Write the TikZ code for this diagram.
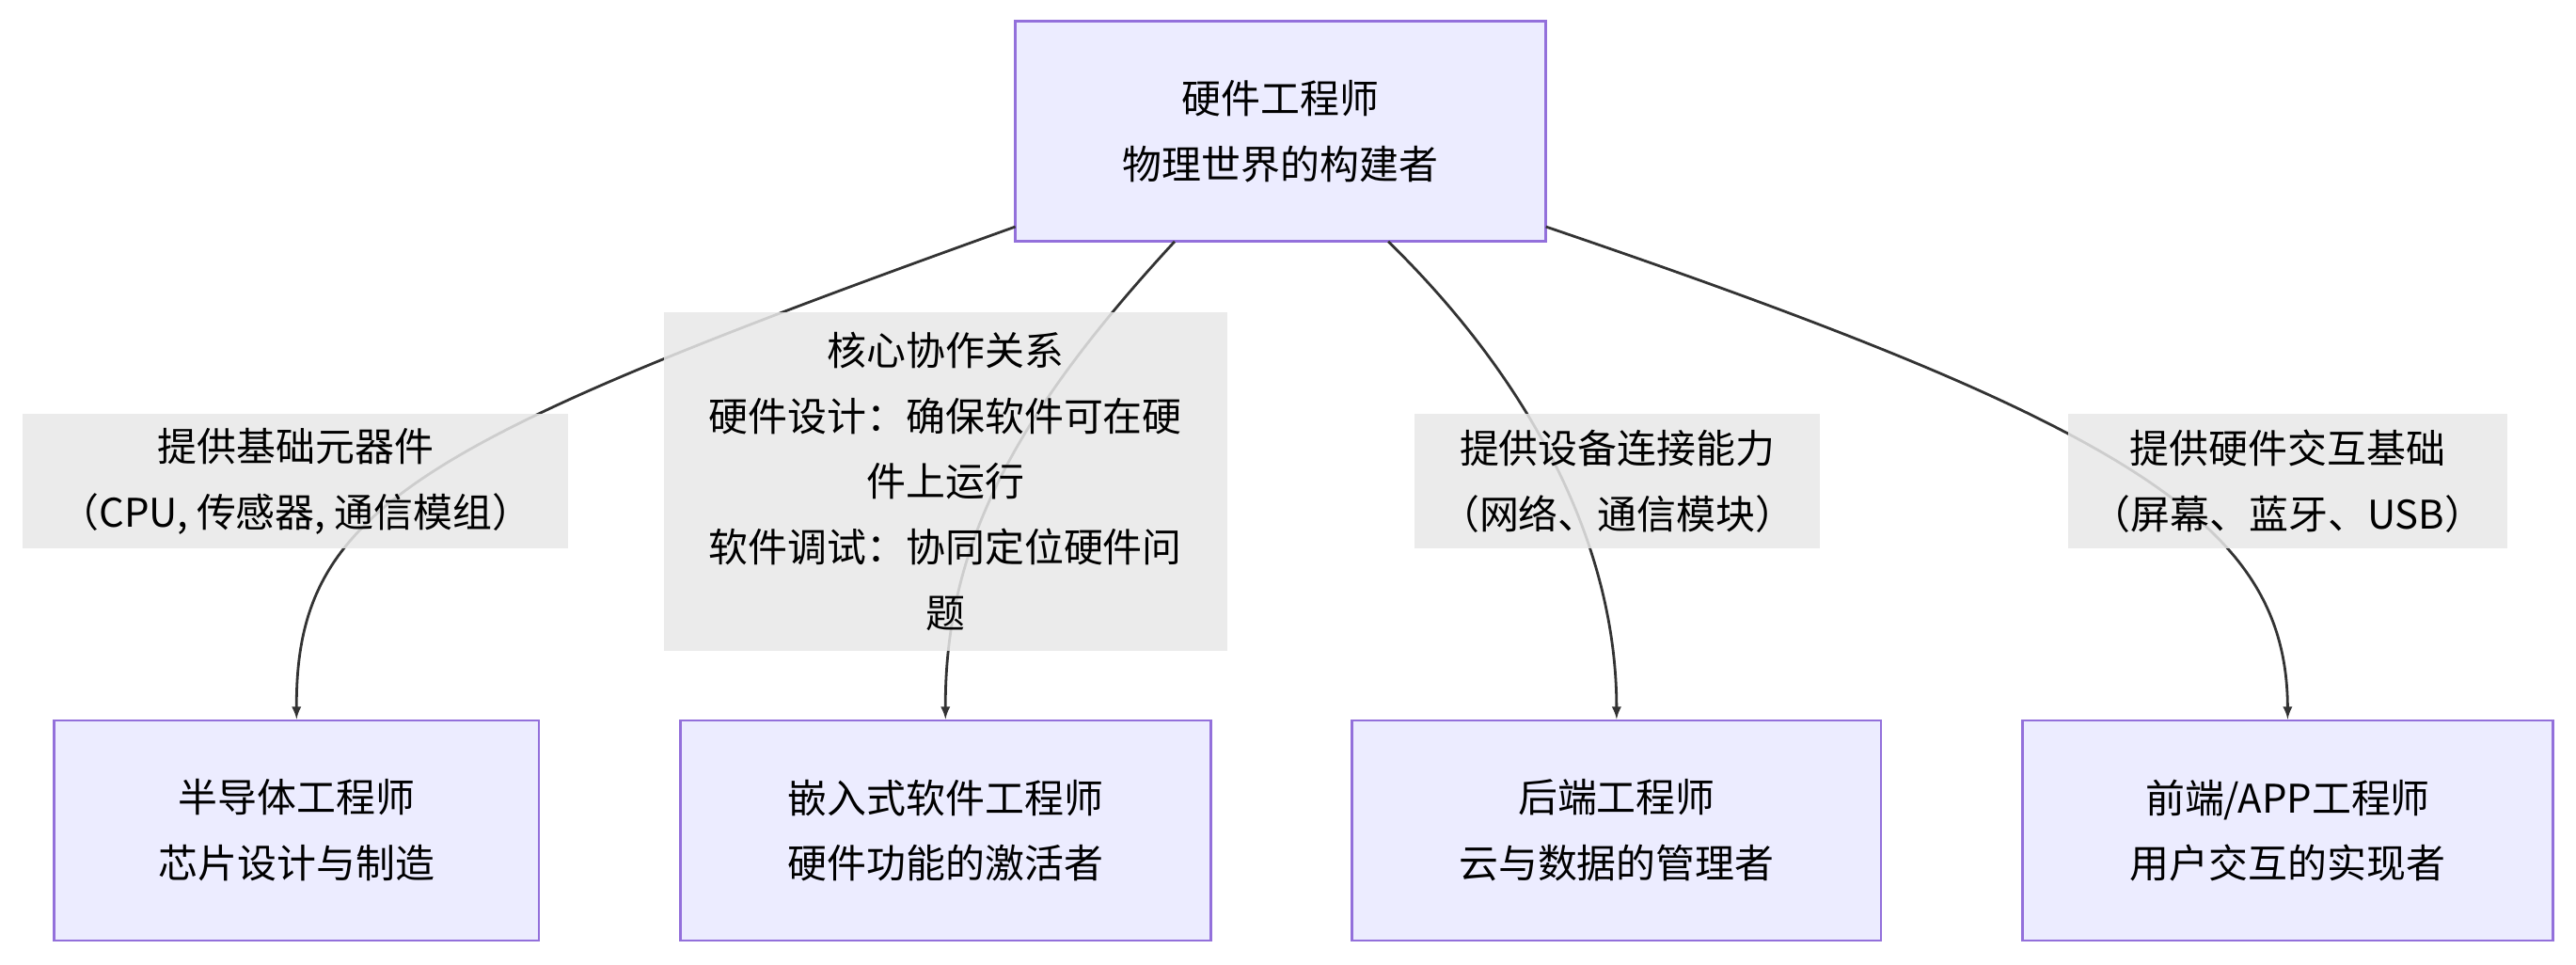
\documentclass[tikz,border=0pt]{standalone}
\usepackage{fontspec}
\setmainfont{Noto Sans CJK SC}
\usetikzlibrary{positioning}
\definecolor{nodefill}{HTML}{ECECFF}
\definecolor{nodeline}{HTML}{9370DB}
\definecolor{edgeline}{HTML}{333333}
\definecolor{labelfill}{HTML}{E8E8E8}
\begin{document}
\begin{tikzpicture}[x=1pt,y=-1pt,>=latex,
    role/.style={rectangle,draw=nodeline,fill=nodefill,line width=1.5pt,align=center,
                 font=\fontsize{24}{40}\selectfont,minimum height=134pt,inner sep=0pt},
    link/.style={->,draw=edgeline,line width=1.6pt},
    tag/.style={fill=labelfill,fill opacity=0.85,text opacity=1,align=center,inner sep=0pt,
                font=\fontsize{24}{40}\selectfont}]
    \useasboundingbox (0,0) rectangle (1568,587);
    \node[role,minimum width=323pt] (hw) at (779.5,80) {硬件工程师\\物理世界的构建者};
    \node[role,minimum width=295pt] (semi) at (180.5,505.5) {半导体工程师\\芯片设计与制造};
    \node[role,minimum width=323pt] (emb) at (575.5,505.5) {嵌入式软件工程师\\硬件功能的激活者};
    \node[role,minimum width=322pt] (back) at (984,505.5) {后端工程师\\云与数据的管理者};
    \node[role,minimum width=323pt] (front) at (1392.5,505.5) {前端/APP工程师\\用户交互的实现者};
    % edges
    \coordinate (s1) at (618,138);
    \coordinate (s2) at (715,147);
    \coordinate (s3) at (845,147);
    \coordinate (s4) at (941,138);
    \draw[link] (s1) .. controls (250,270) and (180,310) .. (semi.north);
    \draw[link] (s2) .. controls (620,250) and (575,330) .. (emb.north);
    \draw[link] (s3) .. controls (930,230) and (984,330) .. (back.north);
    \draw[link] (s4) .. controls (1300,260) and (1392,320) .. (front.north);
    % labels
    \node[tag,minimum width=332pt,minimum height=82pt] (l1) at (180,293) {提供基础元器件\\（CPU, 传感器, 通信模组）};
    \node[tag,minimum width=343pt,minimum height=206pt] (l2) at (575.5,293) {核心协作关系\\硬件设计：确保软件可在硬\\件上运行\\软件调试：协同定位硬件问\\题};
    \node[tag,minimum width=247pt,minimum height=82pt] (l3) at (984.5,293) {提供设备连接能力\\（网络、通信模块）};
    \node[tag,minimum width=267pt,minimum height=82pt] (l4) at (1392.5,293) {提供硬件交互基础\\（屏幕、蓝牙、USB）};
\end{tikzpicture}
\end{document}
